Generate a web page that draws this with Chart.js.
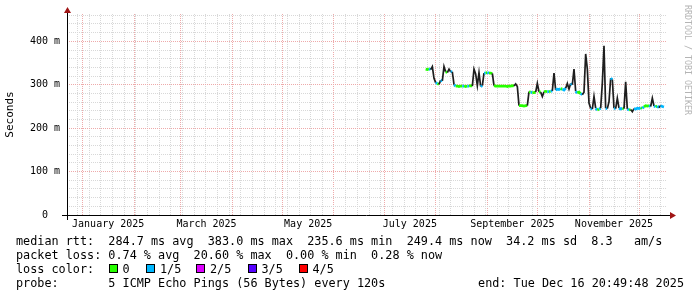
<!DOCTYPE html>
<html>
<head>
<meta charset="utf-8">
<script src="https://cdn.jsdelivr.net/npm/chart.js@4"></script>
<style>
  body { margin: 0; background: #fff; }
  #wrap { position: relative; width: 697px; height: 297px; background: #fff; }
  .leg {
    position: absolute;
    font-family: "DejaVu Sans Mono", monospace;
    font-size: 11.8px;
    line-height: 14px;
    white-space: pre;
    color: #000;
  }
  .box {
    position: absolute;
    width: 7px;
    height: 7px;
    border: 1px solid #000;
  }
</style>
</head>
<body>
<div id="wrap">
  <canvas id="jsSmokeCanvas" width="697" height="297"></canvas>
  <div class="leg" style="left:16px;top:234px">median rtt:  284.7 ms avg  383.0 ms max  235.6 ms min  249.4 ms now  34.2 ms sd  8.3   am/s</div>
  <div class="leg" style="left:16px;top:248px">packet loss: 0.74 % avg  20.60 % max  0.00 % min  0.28 % now</div>
  <div class="leg" style="left:16px;top:262px">loss color:</div>
  <div id="lossLegend"></div>
  <div class="leg" style="left:16px;top:276px">probe:       5 ICMP Echo Pings (56 Bytes) every 120s</div>
  <div class="leg" style="right:13px;top:276px">end: Tue Dec 16 20:49:48 2025</div>
</div>
<script>
// days counted from 2025-01-01 00:00
const days = [
  206, 207, 208, 209, 210, 211, 212, 213, 214, 215, 216, 217, 218, 219, 220, 221, 222, 223,
  224, 225, 226, 227, 228, 229, 230, 231, 232, 233, 234, 235, 236, 237, 238, 239, 240, 241,
  242, 243, 244, 245, 246, 247, 248, 249, 250, 251, 252, 253, 254, 255, 256, 257, 258, 259,
  260, 261, 262, 263, 264, 265, 266, 267, 268, 269, 270, 271, 272, 273, 274, 275, 276, 277,
  278, 279, 280, 281, 282, 283, 284, 285, 286, 287, 288, 289, 290, 291, 292, 293, 294, 295,
  296, 297, 298, 299, 300, 301, 302, 303, 304, 305, 306, 307, 308, 309, 310, 311, 312, 313,
  314, 315, 316, 317, 318, 319, 320, 321, 322, 323, 324, 325, 326, 327, 328, 329, 330, 331,
  332, 333, 334, 335, 336, 337, 338, 339, 340, 341, 342, 343, 344, 345, 346, 347, 348, 349
];

// median rtt in ms
const medianMs = [
  336, 335, 337, 335, 342, 315, 305, 303, 301, 310, 309, 342, 330, 328, 336, 330, 330, 300,
  297, 297, 296, 297, 297, 297, 296, 297, 297, 298, 297, 336, 325, 298, 328, 296, 298, 327,
  327, 328, 327, 327, 326, 298, 297, 297, 297, 297, 297, 297, 297, 296, 297, 297, 298, 297,
  302, 296, 252, 252, 252, 251, 252, 252, 284, 283, 282, 282, 283, 303, 284, 283, 273, 284,
  285, 284, 284, 285, 286, 327, 288, 290, 289, 291, 290, 288, 292, 303, 290, 303, 300, 336,
  285, 281, 283, 280, 277, 283, 371, 336, 258, 246, 244, 273, 246, 242, 244, 246, 304, 390,
  246, 245, 261, 315, 312, 246, 245, 269, 246, 244, 246, 245, 307, 244, 242, 243, 238, 245,
  244, 246, 245, 247, 246, 249, 252, 251, 252, 250, 269, 251, 249, 251, 247, 252, 250, 249
];

// lost pings out of 5
const lossLevel = [
  0, 0, 1, 0, 1, 1, 1, 0, 0, 1, 1, 1, 0, 1, 1, 1, 0, 1,
  0, 0, 0, 0, 1, 0, 0, 1, 0, 0, 1, 0, 1, 1, 0, 1, 0, 1,
  0, 1, 0, 0, 1, 0, 0, 0, 0, 0, 0, 0, 0, 0, 0, 0, 0, 0,
  1, 0, 0, 0, 0, 0, 0, 0, 0, 1, 0, 0, 1, 1, 0, 1, 1, 0,
  0, 1, 0, 1, 1, 1, 1, 1, 1, 0, 1, 1, 1, 1, 1, 1, 1, 1,
  1, 0, 0, 1, 1, 1, 1, 1, 1, 1, 1, 1, 1, 0, 1, 1, 1, 1,
  1, 1, 1, 1, 1, 1, 0, 1, 1, 1, 0, 1, 1, 1, 0, 1, 3, 1,
  1, 1, 1, 0, 1, 0, 0, 0, 1, 0, 1, 1, 0, 1, 1, 1, 1, 1
];

const lossColors = ["#26ff00", "#00b8ff", "#dd00ff", "#5500ff", "#ff0000"];
const lossNames = ["0", "1/5", "2/5", "3/5", "4/5"];

const monthStartDays = [0, 31, 59, 90, 120, 151, 181, 212, 243, 273, 304, 334];
const monthLabelDays = [15.5, 74.5, 135.5, 196.5, 258, 319];
const monthLabels = ["January 2025", "March 2025", "May 2025", "July 2025", "September 2025", "November 2025"];
const firstSunday = -3;

const yTicksMs = [0, 20, 40, 60, 80, 100, 120, 140, 160, 180, 200, 220, 240, 260, 280, 300, 320, 340, 360, 380, 400, 420, 440, 460];

const xMin = -9.2;
const xMax = 350.8;
const smokeColor = "#1e1e1e";
const gridMinor = "#d8d8d8";
const gridMajor = "#eeaaaa";

// loss color legend
const buildLossLegend = () => {
  const holder = document.getElementById("lossLegend");
  const boxLeft = [108.5, 146, 196, 247.5, 298.5];
  lossNames.forEach((name, i) => {
    const box = document.createElement("div");
    box.className = "box";
    box.style.left = boxLeft[i] + "px";
    box.style.top = "264px";
    box.style.background = lossColors[i];
    holder.appendChild(box);
    const txt = document.createElement("div");
    txt.className = "leg";
    txt.style.left = (boxLeft[i] + 14) + "px";
    txt.style.top = "262px";
    txt.textContent = name;
    holder.appendChild(txt);
  });
};

// axis lines, arrows and the rrdtool credit
const rrdFrame = {
  id: "rrdFrame",
  afterDraw(chart) {
    const { ctx, chartArea: a } = chart;
    ctx.save();
    ctx.strokeStyle = "#000";
    ctx.lineWidth = 1;
    ctx.beginPath();
    ctx.moveTo(a.left - 5, a.bottom + 0.5);
    ctx.lineTo(a.right + 4, a.bottom + 0.5);
    ctx.moveTo(a.left + 0.5, a.bottom + 5);
    ctx.lineTo(a.left + 0.5, a.top - 3);
    ctx.stroke();

    ctx.fillStyle = "#a01515";
    ctx.beginPath();
    ctx.moveTo(a.right + 3, a.bottom - 3);
    ctx.lineTo(a.right + 9, a.bottom + 0.5);
    ctx.lineTo(a.right + 3, a.bottom + 4);
    ctx.closePath();
    ctx.fill();
    ctx.beginPath();
    ctx.moveTo(a.left - 3, a.top - 1);
    ctx.lineTo(a.left + 0.5, a.top - 7);
    ctx.lineTo(a.left + 4, a.top - 1);
    ctx.closePath();
    ctx.fill();

    ctx.translate(687, 5);
    ctx.rotate(Math.PI / 2);
    ctx.fillStyle = "#b4b4b4";
    ctx.font = "8.3px 'DejaVu Sans Mono'";
    ctx.textBaseline = "middle";
    ctx.textAlign = "left";
    ctx.fillText("RRDTOOL / TOBI OETIKER", 0, 0);
    ctx.restore();
  },
};

const isSmoke = (ctx) => Math.abs(ctx.p1.parsed.y - ctx.p0.parsed.y) >= 5;

const smokeChart = () => {
  const canvas = document.getElementById("jsSmokeCanvas").getContext("2d");
  Chart.defaults.font.family = "'DejaVu Sans Mono', monospace";
  Chart.defaults.color = "#000";

  new Chart(canvas, {
    type: "line",
    data: {
      datasets: [
        {
          label: "median rtt",
          data: days.map((d, i) => ({ x: d, y: medianMs[i] })),
          borderWidth: 2,
          pointRadius: 0,
          tension: 0,
          segment: {
            // steep jumps look like the dark smoke, flat runs take the loss color
            borderColor: (ctx) => (isSmoke(ctx) ? smokeColor : lossColors[lossLevel[ctx.p0DataIndex]]),
            borderWidth: (ctx) => (isSmoke(ctx) ? 1.7 : 2.7),
          },
        },
      ],
    },
    options: {
      responsive: false,
      animation: false,
      layout: { padding: { top: 14, right: 30, bottom: 0, left: 0 } },
      plugins: {
        legend: { display: false },
        tooltip: { enabled: false },
      },
      scales: {
        x: {
          type: "linear",
          min: xMin,
          max: xMax,
          afterBuildTicks: (scale) => {
            const vals = new Set(monthStartDays.concat(monthLabelDays));
            for (let d = firstSunday; d <= xMax; d += 7) vals.add(d);
            scale.ticks = [...vals].sort((a, b) => a - b).map((v) => ({ value: v }));
          },
          afterFit: (scale) => {
            scale.height = 82;
          },
          ticks: {
            autoSkip: false,
            maxRotation: 0,
            padding: 3,
            font: { size: 10 },
            callback: (value) => {
              const i = monthLabelDays.indexOf(value);
              return i >= 0 ? monthLabels[i] : "";
            },
          },
          grid: {
            drawTicks: false,
            color: (ctx) => {
              const v = ctx.tick ? ctx.tick.value : null;
              if (monthStartDays.includes(v)) return gridMajor;
              if (Number.isInteger(v - firstSunday) && (v - firstSunday) % 7 === 0) return gridMinor;
              return "rgba(0,0,0,0)";
            },
          },
          border: { display: false, dash: [1, 1] },
        },
        y: {
          min: 0,
          max: 463,
          afterBuildTicks: (scale) => {
            scale.ticks = yTicksMs.map((v) => ({ value: v }));
          },
          afterFit: (scale) => {
            scale.width = 67;
          },
          ticks: {
            autoSkip: false,
            padding: 7,
            font: { size: 10 },
            callback: (value) => {
              if (value === 0) return "0  ";
              return value % 100 === 0 ? value + " m" : "";
            },
          },
          grid: {
            drawTicks: false,
            color: (ctx) => (ctx.tick && ctx.tick.value % 100 === 0 ? gridMajor : gridMinor),
          },
          border: { display: false, dash: [1, 1] },
          title: {
            display: true,
            text: "Seconds",
            font: { size: 11 },
            padding: { top: 4, bottom: 4 },
          },
        },
      },
    },
    plugins: [rrdFrame],
  });
};

window.addEventListener("DOMContentLoaded", () => {
  buildLossLegend();
  smokeChart();
});
</script>
</body>
</html>
